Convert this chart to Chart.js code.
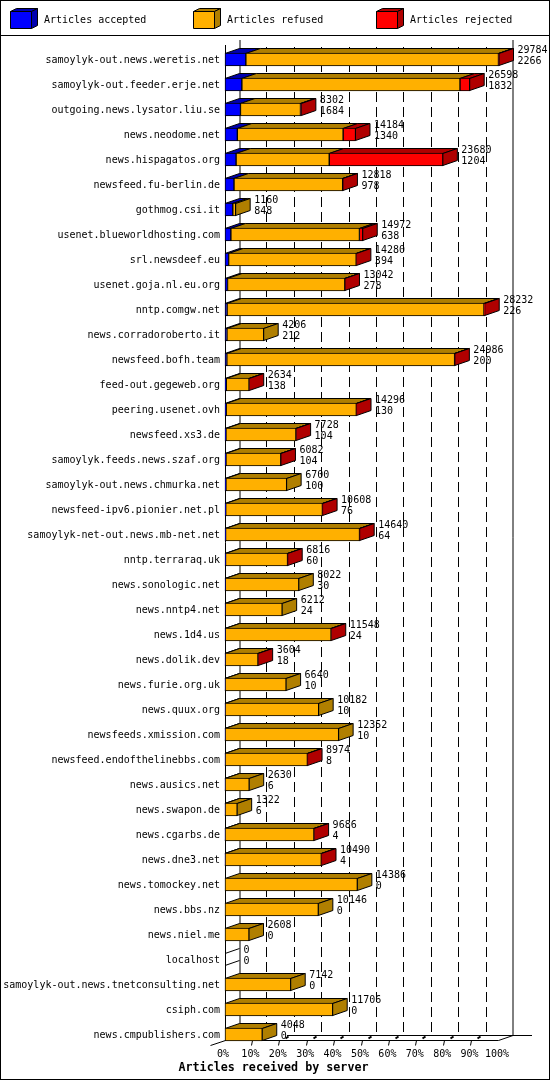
<!DOCTYPE html>
<html>
<head>
<meta charset="utf-8">
<title>Articles received by server</title>
<script src="https://cdn.jsdelivr.net/npm/chart.js@4/dist/chart.umd.min.js"></script>
<style>
  html, body { margin: 0; padding: 0; background: #fff; }
  canvas { display: block; }
</style>
</head>
<body>
<canvas id="chartServers" width="550" height="1080"></canvas>
<script>
/* global Chart */

const servers = [
  'samoylyk-out.news.weretis.net', 'samoylyk-out.feeder.erje.net', 'outgoing.news.lysator.liu.se',
  'news.neodome.net', 'news.hispagatos.org', 'newsfeed.fu-berlin.de', 'gothmog.csi.it',
  'usenet.blueworldhosting.com', 'srl.newsdeef.eu', 'usenet.goja.nl.eu.org', 'nntp.comgw.net',
  'news.corradoroberto.it', 'newsfeed.bofh.team', 'feed-out.gegeweb.org', 'peering.usenet.ovh',
  'newsfeed.xs3.de', 'samoylyk.feeds.news.szaf.org', 'samoylyk-out.news.chmurka.net',
  'newsfeed-ipv6.pionier.net.pl', 'samoylyk-net-out.news.mb-net.net', 'nntp.terraraq.uk',
  'news.sonologic.net', 'news.nntp4.net', 'news.1d4.us', 'news.dolik.dev', 'news.furie.org.uk',
  'news.quux.org', 'newsfeeds.xmission.com', 'newsfeed.endofthelinebbs.com', 'news.ausics.net',
  'news.swapon.de', 'news.cgarbs.de', 'news.dne3.net', 'news.tomockey.net', 'news.bbs.nz',
  'news.niel.me', 'localhost', 'samoylyk-out.news.tnetconsulting.net', 'csiph.com',
  'news.cmpublishers.com'
]

const totals = [
  29784, 26598, 8302, 14184, 23680, 12818, 1160, 14972, 14280, 13042,
  28232, 4206, 24986, 2634, 14296, 7728, 6082, 6700, 10608, 14640,
  6816, 8022, 6212, 11548, 3604, 6640, 10182, 12352, 8974, 2630,
  1322, 9686, 10490, 14386, 10146, 2608, 0, 7142, 11706, 4048
]

const accepted = [
  2266, 1832, 1684, 1340, 1204, 978, 848, 638, 394, 278,
  226, 212, 200, 138, 130, 104, 104, 100, 76, 64,
  60, 30, 24, 24, 18, 10, 10, 10, 8, 6,
  6, 4, 4, 0, 0, 0, 0, 0, 0, 0
]

const refused = [
  27458, 23712, 6518, 11500, 10126, 11810, 312, 13974, 13866, 12744,
  27926, 3994, 24756, 2476, 14146, 7604, 5958, 6600, 10512, 14556,
  6736, 7992, 6188, 11504, 3566, 6630, 10172, 12342, 8946, 2624,
  1316, 9662, 10466, 14386, 10146, 2608, 0, 7142, 11706, 4048
]

const rejected = [
  60, 1054, 100, 1344, 12350, 30, 0, 360, 20, 20,
  80, 0, 30, 20, 20, 20, 20, 0, 20, 20,
  20, 0, 0, 20, 20, 0, 0, 0, 20, 0,
  0, 20, 20, 0, 0, 0, 0, 0, 0, 0
]

const tickPercents = [0, 10, 20, 30, 40, 50, 60, 70, 80, 90, 100]
const axisMax = 29784

const seriesNames = ['Articles accepted', 'Articles refused', 'Articles rejected']
const frontColors = ['#0000ff', '#ffb000', '#ff0000']
const sideColors = ['#0000b0', '#b07f00', '#b00000']
const legendX = [10, 193, 376]

const depthX = 14.5
const depthY = 5
const monoFont = '"DejaVu Sans Mono", "Liberation Mono", monospace'

function strokePath (ctx, points, fill) {
  ctx.beginPath()
  points.forEach((p, i) => (i === 0 ? ctx.moveTo(p[0], p[1]) : ctx.lineTo(p[0], p[1])))
  if (fill) {
    ctx.closePath()
    ctx.fillStyle = fill
    ctx.fill()
  }
  ctx.stroke()
}

function drawWalls (chart) {
  const { ctx, chartArea, scales } = chart
  const floorY = 1040.5
  const backFloorY = floorY - depthY
  const left = chartArea.left + 0.5
  const right = chartArea.right - 0.5

  ctx.lineWidth = 1
  ctx.strokeStyle = '#000'

  // dashed grid on the back wall
  ctx.setLineDash([10, 5])
  scales.x.ticks.slice(1, -1).forEach((tick) => {
    const x = Math.floor(scales.x.getPixelForValue(tick.value) + depthX) + 0.5
    strokePath(ctx, [[x, 47], [x, backFloorY]])
  })
  ctx.setLineDash([])

  strokePath(ctx, [[left, 45], [left, floorY]])
  strokePath(ctx, [[left + depthX, 40], [left + depthX, backFloorY]])
  strokePath(ctx, [[right + depthX, 40], [right + depthX, backFloorY]])
  strokePath(ctx, [[left, floorY], [right, floorY], [right + depthX, backFloorY]])
  strokePath(ctx, [[287, backFloorY], [532, backFloorY]])
  strokePath(ctx, [[left - 15, floorY + 5], [left, floorY]])

  // floor marks under each tick
  scales.x.ticks.slice(1, -1).forEach((tick) => {
    const x = Math.floor(scales.x.getPixelForValue(tick.value)) + 0.5
    strokePath(ctx, [[x - 1, floorY + 5], [x, floorY]])
    ctx.lineWidth = 2
    strokePath(ctx, [[x + 6, floorY - 2], [x + 9, floorY - 4]])
    ctx.lineWidth = 1
  })
}

function drawBarDepth (chart) {
  const { ctx } = chart
  ctx.lineWidth = 1
  ctx.strokeStyle = '#000'

  servers.forEach((server, row) => {
    let end = null
    let top = 0
    let bottom = 0
    let lastSeries = -1

    chart.data.datasets.forEach((dataset, i) => {
      const bar = chart.getDatasetMeta(i).data[row]
      top = Math.floor(bar.y - bar.height / 2) + 0.5
      bottom = top + 12
      end = bar.x
      if (dataset.data[row] > 0) {
        lastSeries = i
        strokePath(ctx, [
          [bar.base, top], [bar.base + depthX, top - depthY],
          [bar.x + depthX, top - depthY], [bar.x, top]
        ], sideColors[i])
      }
    })

    const sidePoints = [
      [end, top], [end + depthX, top - depthY],
      [end + depthX, bottom - depthY], [end, bottom]
    ]
    if (lastSeries >= 0) {
      strokePath(ctx, sidePoints, sideColors[lastSeries])
    } else {
      strokePath(ctx, [sidePoints[0], sidePoints[1]])
      strokePath(ctx, [sidePoints[3], sidePoints[2]])
    }
  })
}

function drawBarLabels (chart) {
  const { ctx } = chart
  const lastMeta = chart.getDatasetMeta(chart.data.datasets.length - 1)

  ctx.fillStyle = '#000'
  ctx.font = `10px ${monoFont}`
  ctx.textAlign = 'left'
  ctx.textBaseline = 'middle'
  servers.forEach((server, row) => {
    const bar = lastMeta.data[row]
    const x = bar.x + depthX + 4
    ctx.fillText(String(totals[row]), x, bar.y - 9.5)
    ctx.fillText(String(accepted[row]), x, bar.y + 1.5)
  })
}

function drawFrameAndLegend (chart) {
  const { ctx, width, height } = chart

  ctx.lineWidth = 1
  ctx.strokeStyle = '#000'
  ctx.setLineDash([])
  ctx.strokeRect(0.5, 0.5, width - 1, height - 1)
  strokePath(ctx, [[0, 35.5], [width, 35.5]])

  seriesNames.forEach((name, i) => {
    const x = legendX[i] + 0.5
    const y = 11.5
    const w = 21
    const h = 17
    strokePath(ctx, [[x, y], [x + 6, y - 3], [x + w + 6, y - 3], [x + w, y]], sideColors[i])
    strokePath(ctx, [[x + w, y], [x + w + 6, y - 3], [x + w + 6, y + h - 3], [x + w, y + h]], sideColors[i])
    strokePath(ctx, [[x, y], [x + w, y], [x + w, y + h], [x, y + h]], frontColors[i])
    ctx.fillStyle = '#000'
    ctx.font = `10px ${monoFont}`
    ctx.textAlign = 'left'
    ctx.textBaseline = 'middle'
    ctx.fillText(name, legendX[i] + 34, 20)
  })

  ctx.font = `bold 11.7px ${monoFont}`
  ctx.textAlign = 'center'
  ctx.fillText('Articles received by server', 273.5, 1068)
}

const depthPlugin = {
  id: 'depthPlugin',
  beforeDatasetsDraw (chart) {
    drawWalls(chart)
    drawBarDepth(chart)
  },
  afterDatasetsDraw (chart) {
    drawBarLabels(chart)
    drawFrameAndLegend(chart)
  }
}

function buildDataset (index, values) {
  return {
    label: seriesNames[index],
    data: values,
    backgroundColor: frontColors[index],
    borderColor: '#000',
    borderWidth: 1,
    borderSkipped: false,
    barThickness: 13,
    clip: false
  }
}

new Chart(document.getElementById('chartServers').getContext('2d'), {
  type: 'bar',
  data: {
    labels: servers,
    datasets: [
      buildDataset(0, accepted),
      buildDataset(1, refused),
      buildDataset(2, rejected)
    ]
  },
  plugins: [depthPlugin],
  options: {
    indexAxis: 'y',
    responsive: false,
    animation: false,
    devicePixelRatio: 1,
    layout: { padding: { top: 47, right: 51, left: 0, bottom: 0 } },
    plugins: { legend: { display: false }, tooltip: { enabled: false } },
    scales: {
      x: {
        stacked: true,
        min: 0,
        max: axisMax,
        grid: { display: false, drawTicks: false },
        border: { display: false },
        afterFit (scale) { scale.height = 33 },
        afterBuildTicks (scale) {
          scale.ticks = tickPercents.map((p) => ({ value: p / 100 * axisMax }))
        },
        ticks: {
          color: '#000',
          font: { family: monoFont, size: 10 },
          padding: 1,
          labelOffset: -2,
          autoSkip: false,
          maxRotation: 0,
          callback: (value) => `${Math.round(value / axisMax * 100)}%`
        }
      },
      y: {
        stacked: true,
        grid: { display: false, drawTicks: false },
        border: { display: false },
        afterFit (scale) { scale.width = 225 },
        ticks: {
          color: '#000',
          font: { family: monoFont, size: 10 },
          padding: 5,
          labelOffset: 1,
          autoSkip: false
        }
      }
    }
  }
})
</script>
</body>
</html>
